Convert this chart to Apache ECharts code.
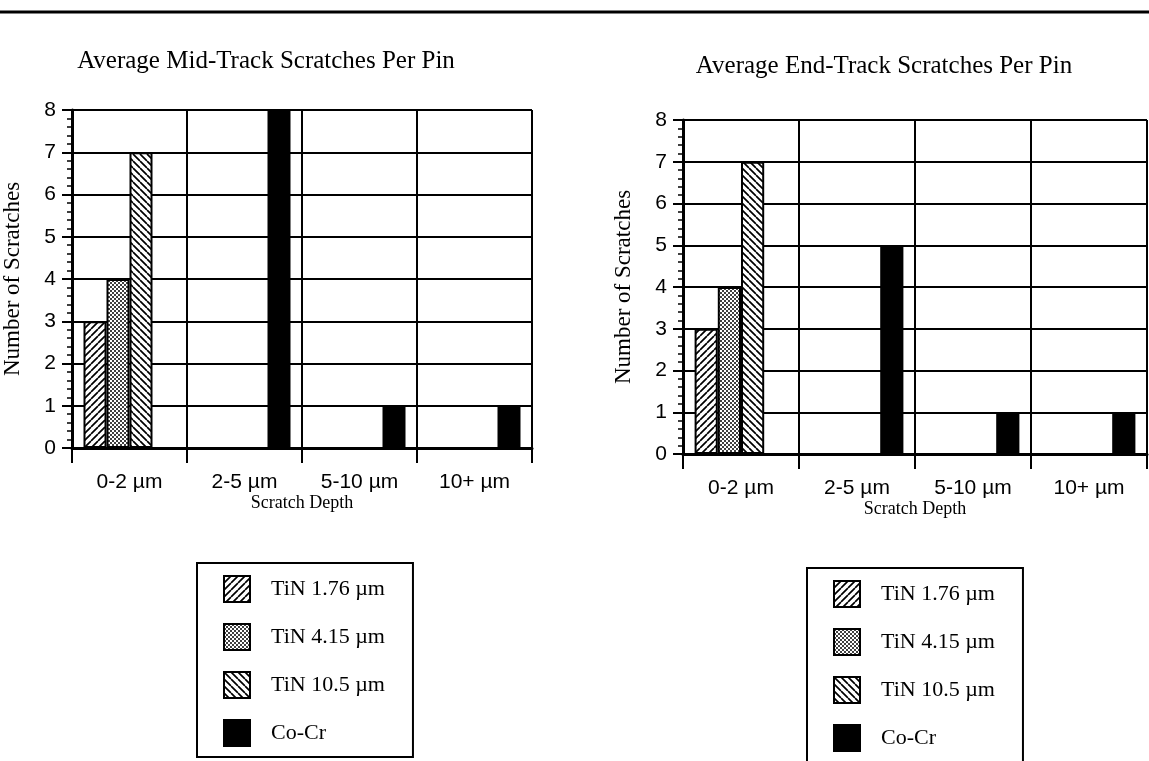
<!DOCTYPE html>
<html>
<head>
<meta charset="utf-8">
<script src="https://cdn.jsdelivr.net/npm/echarts@6/dist/echarts.min.js"></script>
<style>
  html, body { margin: 0; padding: 0; background: #fff; }
  #chart { width: 1149px; height: 761px; }
</style>
</head>
<body>
<div id="chart"></div>
<script>
// Scratch depth bins and coating names
const categories = ['0-2 µm', '2-5 µm', '5-10 µm', '10+ µm'];
const seriesNames = ['TiN 1.76 µm', 'TiN 4.15 µm', 'TiN 10.5 µm', 'Co-Cr'];

// Average mid-track scratches per pin
const midTin176 = [3, 0, 0, 0];
const midTin415 = [4, 0, 0, 0];
const midTin105 = [7, 0, 0, 0];
const midCoCr   = [0, 8, 1, 1];

// Average end-track scratches per pin
const endTin176 = [3, 0, 0, 0];
const endTin415 = [4, 0, 0, 0];
const endTin105 = [7, 0, 0, 0];
const endCoCr   = [0, 5, 1, 1];

const yMin = 0, yMax = 8, yStep = 1;

const titles = ['Average Mid-Track Scratches Per Pin', 'Average End-Track Scratches Per Pin'];
const yName = 'Number of Scratches';
const xName = 'Scratch Depth';

const SERIF = '"Liberation Serif", "Times New Roman", serif';
const SANS = '"Liberation Sans", Arial, Helvetica, sans-serif';

// --- fill patterns ---
function makeCanvas(w, h) {
  const c = document.createElement('canvas');
  c.width = w; c.height = h;
  const ctx = c.getContext('2d');
  ctx.fillStyle = '#fff';
  ctx.fillRect(0, 0, w, h);
  return [c, ctx];
}
function hatchPattern(forward) {
  const s = 7;
  const [c, ctx] = makeCanvas(s, s);
  ctx.strokeStyle = '#000';
  ctx.lineWidth = 1.7;
  ctx.beginPath();
  for (let k = -1; k <= 1; k++) {
    if (forward) {
      ctx.moveTo(k * s, s); ctx.lineTo(k * s + s, 0);
    } else {
      ctx.moveTo(k * s, 0); ctx.lineTo(k * s + s, s);
    }
  }
  ctx.stroke();
  return { image: c, repeat: 'repeat' };
}
function dotPattern() {
  const s = 4;
  const [c, ctx] = makeCanvas(s, s);
  ctx.fillStyle = '#000';
  [[1, 1], [3, 3]].forEach(([x, y]) => {
    ctx.beginPath(); ctx.arc(x, y, 1.0, 0, Math.PI * 2); ctx.fill();
  });
  ctx.beginPath(); ctx.arc(-1, -1, 1.0, 0, Math.PI * 2); ctx.fill();
  return { image: c, repeat: 'repeat' };
}
const fills = [hatchPattern(true), dotPattern(), hatchPattern(false), '#000'];

const clean = arr => arr.map(v => (v === 0 ? null : v));

const grids = [
  { left: 68, top: 110, width: 464, height: 338 },
  { left: 683, top: 120, width: 464, height: 334 }
];

function xAxisFor(i) {
  return {
    type: 'category', gridIndex: i, data: categories,
    boundaryGap: true,
    axisLine: { lineStyle: { color: '#000', width: 3 } },
    axisTick: { show: true, interval: 0, length: 15, lineStyle: { color: '#000', width: 2 } },
    splitLine: { show: true, interval: 0, lineStyle: { color: '#000', width: 2 } },
    axisLabel: { interval: 0, margin: 24, color: '#000', fontFamily: SANS, fontSize: 21 },
    name: xName, nameLocation: 'middle', nameGap: 32,
    nameTextStyle: { color: '#000', fontFamily: SERIF, fontSize: 18 }
  };
}
function yAxisFor(i) {
  return {
    type: 'value', gridIndex: i, min: yMin, max: yMax, interval: yStep,
    axisLine: { show: true, lineStyle: { color: '#000', width: 3 } },
    axisTick: { show: true, length: 10, lineStyle: { color: '#000', width: 2 } },
    minorTick: { show: true, splitNumber: 5, length: 5, lineStyle: { color: '#000', width: 1.5 } },
    splitLine: { show: true, lineStyle: { color: '#000', width: 2 } },
    axisLabel: { margin: 16, color: '#000', fontFamily: SANS, fontSize: 21 },
    name: yName, nameLocation: 'middle', nameGap: 48, nameRotate: 90,
    nameTextStyle: { color: '#000', fontFamily: SERIF, fontSize: 23 }
  };
}

const panelData = [
  [midTin176, midTin415, midTin105, midCoCr],
  [endTin176, endTin415, endTin105, endCoCr]
];

const series = [];
panelData.forEach((sets, g) => {
  sets.forEach((vals, k) => {
    series.push({
      type: 'bar', name: seriesNames[k],
      xAxisIndex: g, yAxisIndex: g,
      data: clean(vals),
      barGap: '0%', barCategoryGap: '20%',
      itemStyle: { color: fills[k], borderColor: '#000', borderWidth: 2 },
      emphasis: { disabled: true },
      animation: false
    });
  });
});

function legendFor(left, top, h) {
  return {
    orient: 'vertical', left: left, top: top,
    width: 200, height: h,
    data: seriesNames, icon: 'rect',
    itemWidth: 26, itemHeight: 26, itemGap: 20,
    borderColor: '#000', borderWidth: 2,
    padding: [12, 28, 10, 26],
    itemStyle: { borderColor: '#000', borderWidth: 2 },
    textStyle: { color: '#000', fontFamily: SERIF, fontSize: 22, padding: [0, 0, 0, 16] },
    selectedMode: false
  };
}

const option = {
  backgroundColor: '#fff',
  animation: false,
  grid: grids,
  xAxis: [xAxisFor(0), xAxisFor(1)],
  yAxis: [yAxisFor(0), yAxisFor(1)],
  legend: [legendFor(197, 563, 173), legendFor(807, 568, 190)],
  series: series,
  graphic: [
    { type: 'line', shape: { x1: 0, y1: 12, x2: 1149, y2: 12 }, style: { stroke: '#000', lineWidth: 3 } },
    { type: 'text', x: 266, y: 61, style: { text: titles[0], fill: '#000', font: '25px ' + SERIF, align: 'center', verticalAlign: 'middle', textAlign: 'center', textVerticalAlign: 'middle' } },
    { type: 'text', x: 884, y: 66, style: { text: titles[1], fill: '#000', font: '25px ' + SERIF, align: 'center', verticalAlign: 'middle', textAlign: 'center', textVerticalAlign: 'middle' } }
  ]
};

const chart = echarts.init(document.getElementById('chart'), null, { renderer: 'canvas' });
chart.setOption(option);
</script>
</body>
</html>
